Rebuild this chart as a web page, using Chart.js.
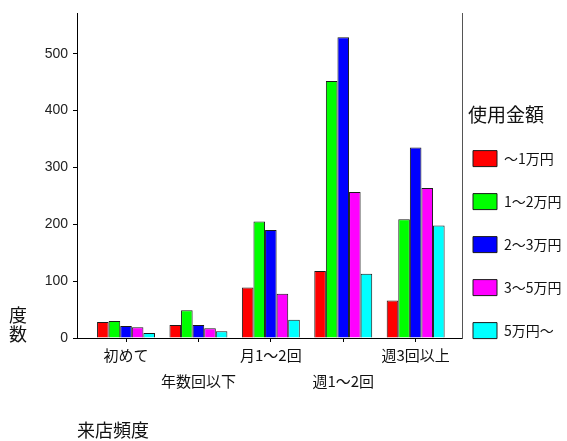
<!DOCTYPE html>
<html>
<head>
<meta charset="utf-8">
<script src="https://cdn.jsdelivr.net/npm/chart.js@4/dist/chart.umd.min.js"></script>
<style>
  html, body { margin: 0; padding: 0; background: #fff; }
  #wrap { width: 567px; height: 441px; }
</style>
</head>
<body>
<div id="wrap"><canvas id="c" width="567" height="441"></canvas></div>
<script>
// 来店頻度 (visit frequency) categories
const categories = ['初めて', '年数回以下', '月1～2回', '週1～2回', '週3回以上'];

// 使用金額 (spending) series
const seriesNames = ['～1万円', '1～2万円', '2～3万円', '3～5万円', '5万円～'];
const under1 = [28, 23, 89, 118, 66];
const from1to2 = [30, 49, 205, 452, 209];
const from2to3 = [21, 23, 190, 529, 335];
const from3to5 = [19, 17, 78, 257, 264];
const over5 = [9, 12, 32, 113, 198];

const yTicks = [0, 100, 200, 300, 400, 500];

const seriesValues = [under1, from1to2, from2to3, from3to5, over5];
const seriesColors = ['#ff0000', '#00ff00', '#0000ff', '#ff00ff', '#00ffff'];

const jpFont = '"Noto Sans CJK JP", "Noto Sans", sans-serif';
const PLOT_RIGHT = 462;

const datasets = seriesValues.map((vals, i) => ({
  label: seriesNames[i],
  data: vals.map((v, k) => ({ x: k, y: v })),
  backgroundColor: seriesColors[i],
  borderColor: '#1a1a1a',
  borderWidth: 1,
  categoryPercentage: 0.8,
  barPercentage: 1.0
}));

// Axis caption 度数 (one character per line) and the legend heading 使用金額
const captionPlugin = {
  id: 'captions',
  afterDraw(chart) {
    const ctx = chart.ctx;
    ctx.save();
    ctx.font = '18px ' + jpFont;
    ctx.fillStyle = '#111';
    ctx.textAlign = 'center';
    ctx.textBaseline = 'middle';
    ctx.fillText('度', 18, 315);
    ctx.fillText('数', 18, 334);
    ctx.font = '19px ' + jpFont;
    ctx.textAlign = 'left';
    ctx.fillText('使用金額', chart.legend.left + 6, 115);
    ctx.restore();
  }
};

new Chart(document.getElementById('c'), {
  type: 'bar',
  data: { datasets },
  plugins: [captionPlugin],
  options: {
    responsive: false,
    animation: false,
    layout: { padding: { top: 10, right: 0, left: 0, bottom: 0 } },
    scales: {
      x: {
        type: 'linear',
        min: -0.677,
        max: 4.64,
        offset: false,
        afterBuildTicks(scale) {
          scale.ticks = categories.map((_, i) => ({ value: i }));
        },
        afterFit(scale) { scale.height = 103; },
        grid: { offset: false, drawOnChartArea: false, drawTicks: true, tickLength: 4, color: '#000' },
        border: { display: true, color: '#000', width: 1 },
        ticks: {
          autoSkip: false,
          maxRotation: 0,
          padding: 0,
          color: '#111',
          font: { family: jpFont, size: 15, lineHeight: '26px' },
          callback(value) {
            const i = Math.round(value);
            const name = categories[i] || '';
            return i % 2 === 0 ? [name] : ['', name];
          }
        },
        title: {
          display: true,
          text: '来店頻度',
          align: 'start',
          color: '#111',
          font: { family: jpFont, size: 18, lineHeight: 1.2 },
          padding: { top: 0, bottom: 0 }
        }
      },
      y: {
        min: 0,
        max: 571,
        afterBuildTicks(scale) {
          scale.ticks = yTicks.map(v => ({ value: v }));
        },
        afterFit(scale) { scale.width = 77; },
        grid: { drawOnChartArea: false, drawTicks: true, tickLength: 4, color: '#000' },
        border: { display: true, color: '#000', width: 1 },
        ticks: {
          padding: 5,
          color: '#222',
          font: { family: '"Liberation Sans", Arial, sans-serif', size: 14 }
        }
      },
      yRight: {
        position: 'right',
        min: 0,
        max: 571,
        afterFit(scale) { scale.width = 0; },
        grid: { drawOnChartArea: false, drawTicks: false },
        border: { display: true, color: '#555', width: 1 },
        ticks: { display: false }
      }
    },
    plugins: {
      tooltip: { enabled: false },
      legend: {
        position: 'right',
        align: 'start',
        maxWidth: 567 - PLOT_RIGHT,
        title: {
          display: true,
          text: '',
          font: { family: jpFont, size: 18, lineHeight: 1.2 },
          padding: { top: 96, bottom: 12 }
        },
        labels: {
          boxWidth: 24,
          boxHeight: 16,
          padding: 11,
          color: '#111',
          font: { family: jpFont, size: 14, lineHeight: '32px' },
          generateLabels(chart) {
            return Chart.defaults.plugins.legend.labels.generateLabels(chart)
              .map(item => Object.assign({}, item, { text: [item.text] }));
          }
        }
      }
    }
  }
});
</script>
</body>
</html>
